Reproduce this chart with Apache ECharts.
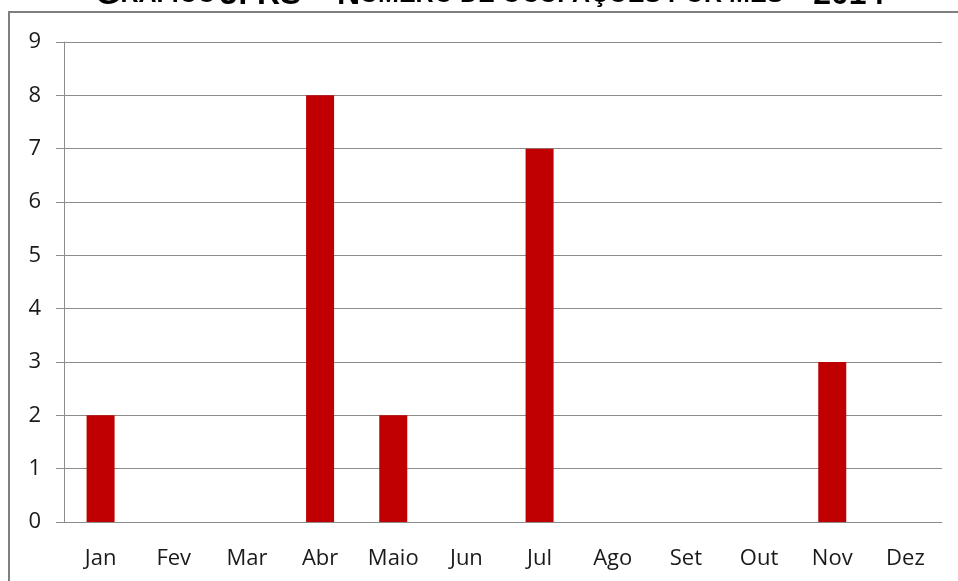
<!DOCTYPE html>
<html>
<head>
	<meta charset="UTF-8">
	<title>Gráfico 3</title>
	<script src="https://cdn.jsdelivr.net/npm/echarts@6/dist/echarts.min.js"></script>
	<style>
		html, body { margin: 0; padding: 0; background: #fff; }
		#main { width: 958px; height: 581px; }
	</style>
</head>
<body>
	<div id="main"></div>
	<script>
	var meses = ['Jan', 'Fev', 'Mar', 'Abr', 'Maio', 'Jun', 'Jul', 'Ago', 'Set', 'Out', 'Nov', 'Dez'];
	var ocupacoes = [2, 0, 0, 8, 2, 0, 7, 0, 0, 0, 3, 0];
	var yTicks = [0, 1, 2, 3, 4, 5, 6, 7, 8, 9];

	var labelFont = '"Open Sans", sans-serif';
	var gray = '#8c8c8c';

	var myChart = echarts.init(document.getElementById('main'));
	var option = {
		animation: false,
		grid: { left: 64, right: 16, top: 42, bottom: 59 },
		graphic: [
			{
				type: 'rect',
				shape: { x: 9, y: 12, width: 1000, height: 700 },
				style: { fill: 'none', stroke: '#7f7f7f', lineWidth: 2 },
				silent: true
			},
			{
				// titulo cortado no topo da imagem
				type: 'text',
				x: 490,
				y: -21,
				style: {
					text: '{b|G}{s|RÁFICO} {b|3: RS – N}{s|ÚMERO DE OCUPAÇÕES POR MÊS} {b|– 2014}',
					align: 'center',
					rich: {
						b: { fontFamily: 'Liberation Sans, Arial', fontWeight: 'bold', fontSize: 32, fill: '#000' },
						s: { fontFamily: 'Liberation Sans, Arial', fontWeight: 'bold', fontSize: 25, fill: '#000' }
					}
				},
				silent: true
			}
		],
		xAxis: {
			type: 'category',
			data: meses,
			axisLine: { lineStyle: { color: gray, width: 1 } },
			axisTick: { length: 8, lineStyle: { color: gray } },
			axisLabel: { color: '#1a1a1a', fontFamily: labelFont, fontSize: 22, margin: 26 }
		},
		yAxis: {
			type: 'value',
			min: yTicks[0],
			max: yTicks[yTicks.length - 1],
			interval: 1,
			axisLine: { show: true, lineStyle: { color: gray, width: 1 } },
			axisTick: { show: true, length: 8, lineStyle: { color: gray } },
			axisLabel: { color: '#1a1a1a', fontFamily: labelFont, fontSize: 22, margin: 23 },
			splitLine: { lineStyle: { color: gray, width: 1 } }
		},
		series: [{
			type: 'bar',
			data: ocupacoes,
			barWidth: 28,
			itemStyle: { color: '#c00000' }
		}]
	};
	myChart.setOption(option);
	</script>
</body>
</html>
